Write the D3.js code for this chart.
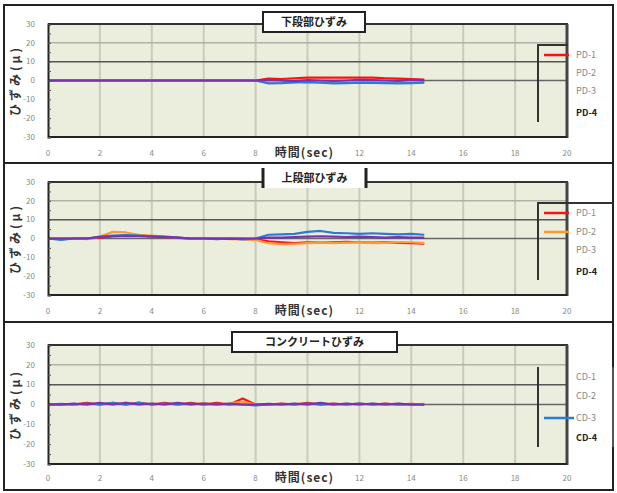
<!DOCTYPE html>
<html><head><meta charset="utf-8">
<script src="https://cdn.jsdelivr.net/npm/d3@7"></script>
<style>body{margin:0;background:#fff;} svg{display:block;font-family:"Noto Sans CJK JP","DejaVu Sans",sans-serif;}</style>
</head><body>
<svg id="c" width="617" height="493"></svg>
<script>
const time = [0,0.5,1,1.5,2,2.5,3,3.5,4,4.5,5,5.5,6,6.5,7,7.5,8,8.5,9,9.5,10,10.5,11,11.5,12,12.5,13,13.5,14,14.5];
const xTicks = [0,2,4,6,8,10,12,14,16,18,20];
const yTicks = [30,20,10,0,-10,-20,-30];
const titles = ["下段部ひずみ","上段部ひずみ","コンクリートひずみ"];
const legendPD = ["PD-1","PD-2","PD-3","PD-4"];
const legendCD = ["CD-1","CD-2","CD-3","CD-4"];
const seriesColors = ["#ff1010","#ff9933","#2b7bd0","#7a30b0"];

// panel 1 : 下段部
const p1_s1 = [0,0,0,0,0,0,0,0,0,0,0,0,0,0,0,0,0,1,0.8,1.2,1.5,1.5,1.6,1.5,1.6,1.5,1.2,1,0.8,0.5];
const p1_s2 = [0,0,0,0,0,0,0,0,0,0,0,0,0,0,0,0,0,-1.2,-1,-0.8,-1.3,-1,-0.9,-1.2,-1,-1.1,-1.3,-1,-1.2,-0.8];
const p1_s3 = [0,0,0,0,0,0,0,0,0,0,0,0,0,0,0,0,0,-1.5,-1.4,-1,-0.8,-1.2,-1.5,-1.4,-1.2,-1.3,-1.4,-1.5,-1.4,-1.2];
const p1_s4 = [0,0,0,0,0,0,0,0,0,0,0,0,0,0,0,0,0,0.3,0,-0.3,0.2,0,-0.2,0,0.3,0.2,0,-0.2,0.3,0];
// panel 2 : 上段部
const p2_s1 = [0,0,0,0,0.5,1.2,1.5,1.5,1.2,0.8,0.3,0,0,0,0,-0.2,-0.5,-1.5,-2,-2.5,-2,-2.2,-2,-1.8,-2,-2.2,-2,-2.3,-2.5,-2.8];
const p2_s2 = [0,0,0,-0.3,1,3.5,3.2,2,1.5,1,0.5,0,0,0,-0.3,-0.5,-0.8,-2.5,-3,-2.8,-2.5,-2.2,-2.5,-2.2,-2,-2.5,-2.3,-2,-2,-2.5];
const p2_s3 = [0,-0.8,0,0,1,1.5,1.8,1.5,1.2,1,0.5,0,0,-0.3,0,-0.5,0,2,2.2,2.5,3.5,4,3,2.8,2.5,2.8,2.5,2.2,2.5,2];
const p2_s4 = [0,0,0,0,0.8,1.2,1.2,1.2,1,0.8,0.5,0,0,0,-0.2,0,0,0.5,0.5,0.8,1,1.2,1,0.8,1,0.8,0.5,0.8,0.5,0.5];
// panel 3 : コンクリート
const p3_s1 = [0,0,0,0.8,0,0.8,0,1,0,0.8,0,0.8,0,0.8,0,3,0,0,0.5,0,0.8,0,0.5,0,0.5,0,0.5,0,0.3,0];
const p3_s2 = [0,0,0,0,0.5,0,1,0,0.5,0,0.5,0,0.8,0,0.5,1.5,0,0,0,0.3,0,0.5,0,0.3,0,0.3,0,0.3,0,0.3];
const p3_s3 = [0,0.3,0,0.5,0,0.8,0,0.8,0,0.5,0,0.5,0,0.3,0,0,-0.5,0,0.3,0,0.5,0,0.3,0,0.5,0,0.3,0,0,0];
const p3_s4 = [0,0,0.5,0,0.8,0,0.8,0,0.5,0,0.8,0,0.5,0,0.5,0,0,0.3,0,0.5,0,0.8,0,0.5,0,0.5,0,0.5,0,0];

const panels = [
  {box:[5,163], top:24, bottom:137, tickY:153, title:titles[0], tbox:[263,12,365,32], tboxSides:"all",
   series:[p1_s1,p1_s2,p1_s3,p1_s4], legend:legendPD, legTop:45, legBot:122, legY:[55,73,91,113], legShow:[0], legRight:false, legTopLine:568},
  {box:[163,322], top:182, bottom:295, tickY:311, title:titles[1], tbox:[263,168,366,188], tboxSides:"lr",
   series:[p2_s1,p2_s2,p2_s3,p2_s4], legend:legendPD, legTop:203, legBot:280, legY:[213,232,250,272], legShow:[0,1], legRight:false, legTopLine:613},
  {box:[322,490], top:345, bottom:464, tickY:478, title:titles[2], tbox:[232,332,397,352], tboxSides:"all",
   series:[p3_s1,p3_s2,p3_s3,p3_s4], legend:legendCD, legTop:367, legBot:447, legY:[377,396,418,438], legShow:[2], legRight:true, legTopLine:null}
];

const svg = d3.select("#c");
const L = 48, R = 567;

panels.forEach(p => {
  const g = svg.append("g");
  g.append("rect").attr("x",4).attr("y",p.box[0]).attr("width",609).attr("height",p.box[1]-p.box[0])
    .attr("fill","#fff").attr("stroke","#222").attr("stroke-width",2);

  const x = d3.scaleLinear().domain([0,20]).range([L,R]);
  const y = d3.scaleLinear().domain([-30,30]).range([p.bottom,p.top]);

  g.append("rect").attr("x",L).attr("y",p.top).attr("width",R-L).attr("height",p.bottom-p.top).attr("fill","#eceedd");
  g.selectAll(".vg").data(xTicks.slice(1,-1)).join("line")
    .attr("x1",d=>x(d)).attr("x2",d=>x(d)).attr("y1",p.top).attr("y2",p.bottom)
    .attr("stroke","#c9ccba").attr("stroke-width",2);
  g.append("line").attr("x1",L).attr("x2",R).attr("y1",y(20)).attr("y2",y(20)).attr("stroke","#b0b2a5").attr("stroke-width",1.5);
  g.append("line").attr("x1",L).attr("x2",R).attr("y1",y(10)).attr("y2",y(10)).attr("stroke","#555").attr("stroke-width",1.5);
  g.append("line").attr("x1",L).attr("x2",R).attr("y1",y(0)).attr("y2",y(0)).attr("stroke","#666").attr("stroke-width",1.5);

  const line = d3.line().x((d,i)=>x(time[i])).y(d=>y(d));
  p.series.forEach((s,i) => {
    g.append("path").datum(s).attr("d",line).attr("fill","none")
      .attr("stroke",seriesColors[i]).attr("stroke-width",2.2).attr("stroke-linejoin","round");
  });

  g.append("line").attr("x1",L).attr("x2",R+1).attr("y1",p.top).attr("y2",p.top).attr("stroke","#333").attr("stroke-width",2);
  g.append("line").attr("x1",R).attr("x2",R).attr("y1",p.top).attr("y2",p.bottom+1).attr("stroke","#444").attr("stroke-width",3);
  g.append("line").attr("x1",L).attr("x2",R).attr("y1",p.bottom).attr("y2",p.bottom).attr("stroke","#222").attr("stroke-width",2);
  const ya = d3.axisLeft(y).tickValues(d3.range(-30,31,5)).tickSize(-3).tickFormat("");
  g.append("g").attr("transform",`translate(${L},0)`).call(ya)
    .call(a=>a.select(".domain").attr("stroke","#222").attr("stroke-width",2))
    .call(a=>a.selectAll(".tick line").attr("stroke","#555"));
  g.selectAll(".yl").data(yTicks).join("text")
    .attr("x",35).attr("y",d=>y(d)).attr("dy","0.35em").attr("text-anchor","end")
    .attr("font-size",8).attr("fill","#888").text(d=>d);
  g.selectAll(".xl").data(xTicks.filter(d=>d!==10)).join("text")
    .attr("x",d=>x(d)).attr("y",p.tickY).attr("dy","0.35em").attr("text-anchor","middle")
    .attr("font-size",8).attr("fill","#888").text(d=>d);
  g.append("text").attr("x",x(10)-3).attr("y",p.tickY).attr("dy","0.35em").attr("text-anchor","middle")
    .attr("font-size",12).attr("font-weight","bold").attr("fill","#333").attr("letter-spacing",1).text("時間(sec)");
  const yc = (p.top+p.bottom)/2;
  g.append("text").attr("transform",`translate(20,${yc}) rotate(-90)`).attr("text-anchor","middle")
    .attr("font-size",12).attr("font-weight","bold").attr("fill","#333").attr("letter-spacing",3).text("ひずみ(μ)");

  const [tx0,ty0,tx1,ty1] = p.tbox;
  if (p.tboxSides==="all") {
    g.append("rect").attr("x",tx0).attr("y",ty0).attr("width",tx1-tx0).attr("height",ty1-ty0)
      .attr("fill","#fff").attr("stroke","#222").attr("stroke-width",2);
  } else {
    g.append("rect").attr("x",tx0).attr("y",ty0).attr("width",tx1-tx0).attr("height",ty1-ty0).attr("fill","#fff");
    g.append("line").attr("x1",tx0).attr("x2",tx0).attr("y1",ty0).attr("y2",ty1).attr("stroke","#222").attr("stroke-width",3);
    g.append("line").attr("x1",tx1).attr("x2",tx1).attr("y1",ty0).attr("y2",ty1).attr("stroke","#222").attr("stroke-width",3);
  }
  g.append("text").attr("x",(tx0+tx1)/2).attr("y",(ty0+ty1)/2).attr("dy","0.36em").attr("text-anchor","middle")
    .attr("font-size",11).attr("font-weight","bold").attr("fill","#222").text(p.title);

  g.append("line").attr("x1",538).attr("x2",538).attr("y1",p.legTop).attr("y2",p.legBot).attr("stroke","#333").attr("stroke-width",2);
  if (p.legTopLine) g.append("line").attr("x1",537).attr("x2",p.legTopLine).attr("y1",p.legTop).attr("y2",p.legTop).attr("stroke","#333").attr("stroke-width",2);
  if (p.legRight) g.append("line").attr("x1",613).attr("x2",613).attr("y1",p.legTop).attr("y2",p.legBot).attr("stroke","#555").attr("stroke-width",2);
  p.legend.forEach((name,i) => {
    if (p.legShow.includes(i)) {
      g.append("line").attr("x1",544).attr("x2",i===2&&p.legRight?574:569).attr("y1",p.legY[i]).attr("y2",p.legY[i])
        .attr("stroke",seriesColors[i]).attr("stroke-width",2.5);
    }
    g.append("text").attr("x",576).attr("y",p.legY[i]).attr("dy","0.35em")
      .attr("font-size",9).attr("fill", i===3?"#222":"#888").attr("font-weight", i===3?"bold":"normal").text(name);
  });
});
</script>
</body></html>
